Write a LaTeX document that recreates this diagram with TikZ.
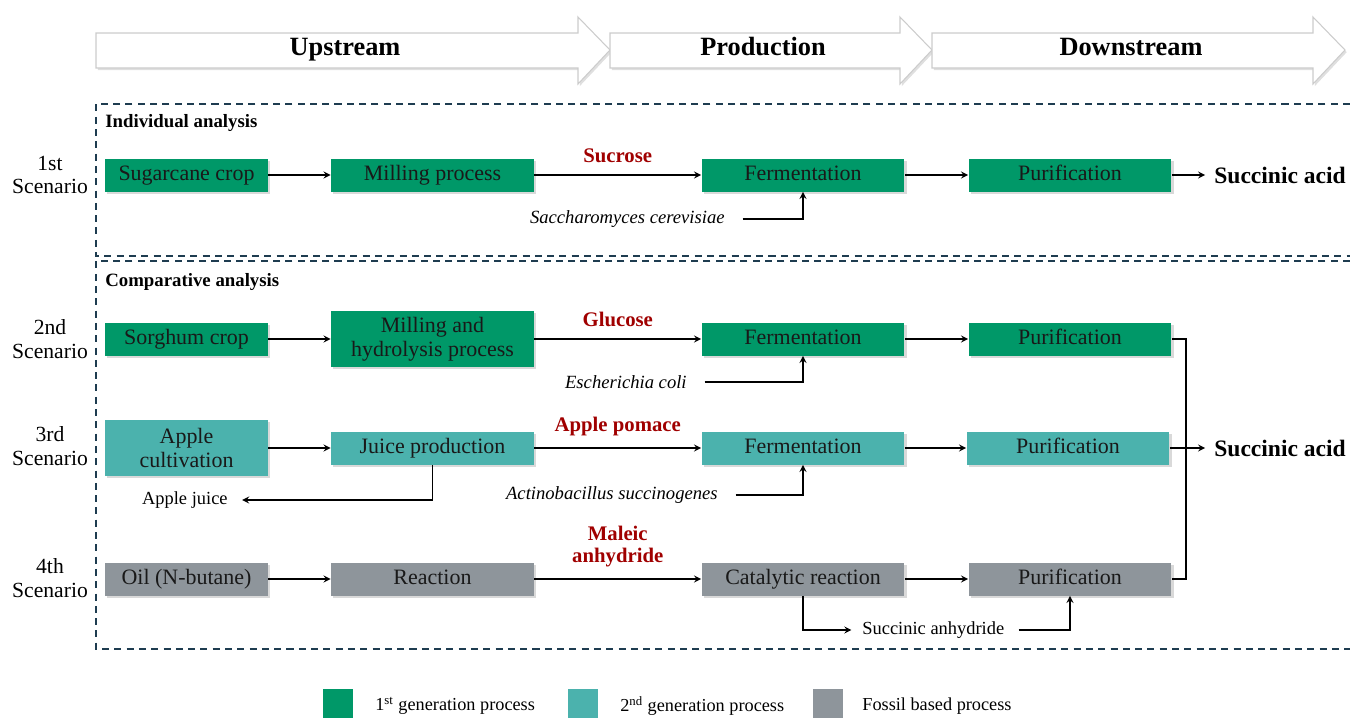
\documentclass[tikz,border=0pt]{standalone}
\usepackage{fontspec}
\setmainfont{Liberation Serif}
\usetikzlibrary{shadows}

\definecolor{firstgen}{RGB}{0,152,104}
\definecolor{secondgen}{RGB}{75,178,173}
\definecolor{fossilgray}{RGB}{142,149,155}
\definecolor{darkred}{RGB}{160,0,0}
\definecolor{frameblue}{RGB}{30,60,80}

\begin{document}
\begin{tikzpicture}[%
		x=0.02cm,
		y=-0.02cm,
		>=stealth,
		process/.style={%
			minimum height=0.66cm,
			inner sep=2pt,
			align=center,
			text height=0.8em,
			text depth=0.2em,
			text=black!90,
			font=\fontsize{12.5}{13.6}\selectfont,
			drop shadow={shadow xshift=1.2pt,shadow yshift=-1.2pt,opacity=0.3}
		},
		narrowbox/.style={process,minimum width=3.26cm},
		widebox/.style={process,minimum width=4.06cm},
		tallbox/.style={minimum height=1.12cm,text height=,text depth=},
		firstbox/.style={fill=firstgen},
		secondbox/.style={fill=secondgen},
		fossilbox/.style={fill=fossilgray},
		flow/.style={->,line width=0.8pt},
		product/.style={font=\fontsize{11.8}{12.5}\selectfont\bfseries,text=darkred,align=center},
		microbe/.style={font=\fontsize{10.6}{12}\selectfont\itshape,inner sep=0pt},
		sidestream/.style={font=\fontsize{10.5}{12}\selectfont,inner sep=0pt},
		scenario/.style={font=\fontsize{12.3}{13.6}\selectfont,align=center},
		analysis/.style={font=\fontsize{10.7}{12}\selectfont\bfseries,anchor=west,inner sep=0pt},
		acid/.style={font=\fontsize{13.4}{14}\selectfont\bfseries,anchor=west,inner sep=0pt},
		frame/.style={dash pattern=on 4pt off 3pt,line width=0.8pt,draw=frameblue},
		stage/.style={fill=white,draw=black!20,line width=0.6pt,
			drop shadow={shadow xshift=1pt,shadow yshift=-1.2pt,opacity=0.25}},
		stagetext/.style={font=\fontsize{15}{16}\selectfont\bfseries,text height=0.8em,text depth=0.2em},
		legendtext/.style={font=\fontsize{10.4}{12}\selectfont,anchor=west,inner sep=0pt}
		]
		\useasboundingbox (0,0) rectangle (1350,718);
		
		% stage arrows on top
		\foreach \xa/\xb/\xc/\xt/\name in {96/578/610/345/Upstream,610/900/932/763/Production,932/1313/1345/1131/Downstream}{
			\path[stage] (\xa,33) -- (\xb,33) -- (\xb,17) -- (\xc,50) -- (\xb,84) -- (\xb,68) -- (\xa,68) -- cycle;
			\node[stagetext] (stage-\name) at (\xt,50) {\name};
		}
		
		% analysis frames
		\draw[frame] (1350,104) -- (96,104) -- (96,256) -- (1350,256);
		\draw[frame] (1350,261) -- (96,261) -- (96,649) -- (1350,649);
		\node[analysis] (indiv) at (105,123) {Individual analysis};
		\node[analysis] (compar) at (105,282) {Comparative analysis};
		
		\node[scenario] (sc1) at (50,175) {1st\\Scenario};
		\node[scenario] (sc2) at (50,339) {2nd\\Scenario};
		\node[scenario] (sc3) at (50,446) {3rd\\Scenario};
		\node[scenario] (sc4) at (50,578) {4th\\Scenario};
		
		% 1st scenario
		\node[narrowbox,firstbox] (crop1) at (186.5,175) {Sugarcane crop};
		\node[widebox,firstbox]   (mill1) at (432.5,175) {Milling process};
		\node[widebox,firstbox]   (ferm1) at (803,175)   {Fermentation};
		\node[widebox,firstbox]   (puri1) at (1070,175)  {Purification};
		\node[acid]               (acid1) at (1214,175)  {Succinic acid};
		\node[microbe,anchor=east] (mic1) at (725,219)   {Saccharomyces cerevisiae};
		
		\draw[flow] (crop1) -- (mill1);
		\draw[flow] (mill1) -- node[product,above=3pt] {Sucrose} (ferm1);
		\draw[flow] (ferm1) -- (puri1);
		\draw[flow] (puri1) -- ([xshift=-5pt]acid1.west);
		\draw[flow] ([xshift=10pt]mic1.east) -| (ferm1.south);
		
		% 2nd scenario
		\node[narrowbox,firstbox] (crop2) at (186.5,339) {Sorghum crop};
		\node[widebox,tallbox,firstbox] (mill2) at (432.5,339) {Milling and\\hydrolysis process};
		\node[widebox,firstbox]   (ferm2) at (803,339)   {Fermentation};
		\node[widebox,firstbox]   (puri2) at (1070,339)  {Purification};
		\node[microbe,anchor=east] (mic2) at (687,382)   {Escherichia coli};
		
		\draw[flow] (crop2) -- (mill2);
		\draw[flow] (mill2) -- node[product,above=3pt] {Glucose} (ferm2);
		\draw[flow] (ferm2) -- (puri2);
		\draw[flow] ([xshift=10pt]mic2.east) -| (ferm2.south);
		
		% 3rd scenario
		\node[narrowbox,tallbox,secondbox] (crop3) at (186.5,448) {Apple\\cultivation};
		\node[widebox,secondbox]  (juice3) at (432.5,448) {Juice production};
		\node[widebox,secondbox]  (ferm3) at (803,448)   {Fermentation};
		\node[widebox,secondbox]  (puri3) at (1068,448)  {Purification};
		\node[acid]               (acid3) at (1214,448)  {Succinic acid};
		\node[sidestream,anchor=east] (ajuice) at (228,500) {Apple juice};
		\node[microbe,anchor=east] (mic3) at (718,495)   {Actinobacillus succinogenes};
		
		\draw[flow] (crop3) -- (juice3);
		\draw[flow] (juice3) -- node[product,above=3pt] {Apple pomace} (ferm3);
		\draw[flow] (ferm3) -- (puri3);
		\draw[flow] (juice3.south) |- ([xshift=8pt]ajuice.east);
		\draw[flow] ([xshift=10pt]mic3.east) -| (ferm3.south);
		
		% 4th scenario
		\node[narrowbox,fossilbox] (crop4) at (186.5,579) {Oil (N-butane)};
		\node[widebox,fossilbox]  (react4) at (432.5,579) {Reaction};
		\node[widebox,fossilbox]  (cat4)  at (803,579)   {Catalytic reaction};
		\node[widebox,fossilbox]  (puri4) at (1070,579)  {Purification};
		\node[sidestream,anchor=west] (sanh) at (862,630) {Succinic anhydride};
		
		\draw[flow] (crop4) -- (react4);
		\draw[flow] (react4) -- node[product,above=3pt] {Maleic\\anhydride} (cat4);
		\draw[flow] (cat4) -- (puri4);
		\draw[flow] (cat4.south) |- ([xshift=-6pt]sanh.west);
		\draw[flow] ([xshift=8pt]sanh.east) -| (puri4.south);
		
		% merging of the comparative routes
		\coordinate (merge) at (1186,448);
		\draw[line width=0.8pt] (puri2.east) -| (merge) |- (puri4.east);
		\draw[flow] (puri3) -- ([xshift=-5pt]acid3.west);
		
		% legend
		\fill[firstgen]   (323,689) rectangle (353,718);
		\fill[secondgen]  (568,689) rectangle (598,718);
		\fill[fossilgray] (813,689) rectangle (843,718);
		\node[legendtext] (leg1) at (375,706) {1\textsuperscript{st} generation process};
		\node[legendtext] (leg2) at (620,706) {2\textsuperscript{nd} generation process};
		\node[legendtext] (leg3) at (862,706) {Fossil based process};
		\end{tikzpicture}
\end{document}
